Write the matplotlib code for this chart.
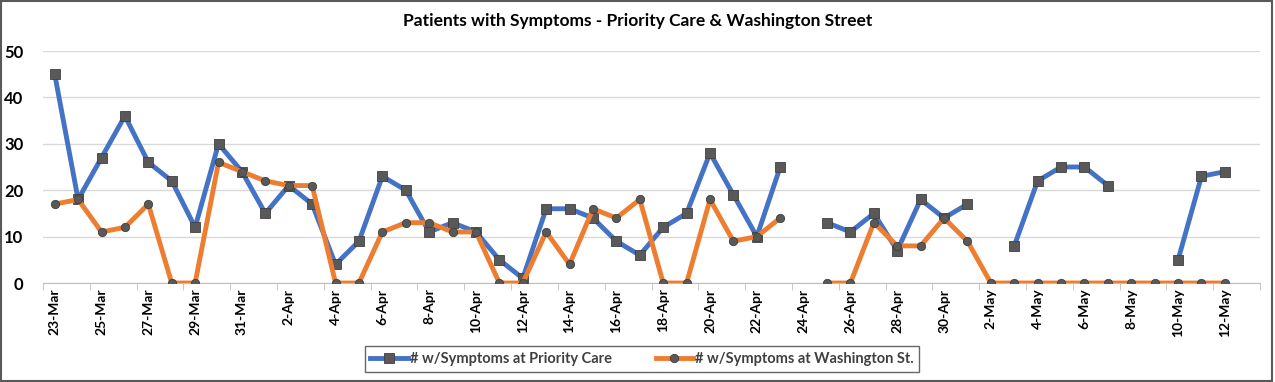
import matplotlib
matplotlib.use("Agg")
import matplotlib.pyplot as plt
import numpy as np
import pandas as pd
from matplotlib.patches import Rectangle

plt.rcParams['font.family'] = ['Lato', 'DejaVu Sans']

# 23-Mar .. 13-May (13-May has no data)
dates = pd.date_range("2020-03-23", "2020-05-13", freq="D")
nan = np.nan
priority_care = [45, 18, 27, 36, 26, 22, 12, 30, 24, 15, 21, 17, 4, 9, 23, 20, 11, 13, 11, 5,
                 1, 16, 16, 14, 9, 6, 12, 15, 28, 19, 10, 25, nan, 13, 11, 15, 7, 18, 14, 17,
                 nan, 8, 22, 25, 25, 21, nan, nan, 5, 23, 24, nan]
washington = [17, 18, 11, 12, 17, 0, 0, 26, 24, 22, 21, 21, 0, 0, 11, 13, 13, 11, 11, 0,
              0, 11, 4, 16, 14, 18, 0, 0, 18, 9, 10, 14, nan, 0, 0, 13, 8, 8, 14, 9,
              0, 0, 0, 0, 0, 0, 0, 0, 0, 0, 0, nan]
labels = [f"{d.day}-{d.strftime('%b')}" for d in dates]

fig = plt.figure(figsize=(12.75, 3.82), dpi=100)
ax = fig.add_axes([43/1275, 1 - 283/382, (1260-43)/1275, (283-51)/382])

x = np.arange(len(dates))
blue = '#4472C4'
orange = '#ED7D31'
ax.plot(x, priority_care, color=blue, lw=3.5, marker='s', ms=6.5, mfc='#595959', mec='#404040',
        mew=0.6, label='# w/Symptoms at Priority Care', zorder=3)
ax.plot(x, washington, color=orange, lw=3.5, marker='o', ms=6, mfc='#595959', mec='#404040',
        mew=0.6, label='# w/Symptoms at Washington St.', zorder=4)

ax.set_xlim(-0.5, len(dates) - 0.5)
ax.set_ylim(0, 50)
ax.set_yticks(range(0, 51, 10))
ax.grid(axis='y', color='#D9D9D9', lw=1)
ax.set_axisbelow(True)
for s in ['top', 'right', 'left']:
    ax.spines[s].set_visible(False)
ax.spines['bottom'].set_color('#BFBFBF')
ax.tick_params(axis='y', length=0, pad=14)
for t in ax.get_yticklabels():
    t.set_fontweight('bold')
    t.set_fontsize(12)

# labels every other day, tick marks at category boundaries
ax.set_xticks(x[::2])
ax.set_xticklabels(labels[::2], rotation=90, fontsize=10, fontweight='bold')
ax.tick_params(axis='x', which='major', length=0, pad=4)
ax.set_xticks(np.arange(-0.5, len(dates), 2), minor=True)
ax.tick_params(axis='x', which='minor', length=5, color='#BFBFBF')

fig.suptitle('Patients with Symptoms - Priority Care & Washington Street', y=0.965,
             fontsize=12.5, fontweight='bold', x=0.5)

leg = fig.legend(loc='center', bbox_to_anchor=(642/1275, 1 - 359/382), ncol=2,
                 frameon=True, fancybox=False, fontsize=10.5, handlelength=2.6,
                 columnspacing=3, handletextpad=0.1, borderpad=0.4)
leg.get_frame().set_edgecolor('#404040')
leg.get_frame().set_linewidth(1)
for t in leg.get_texts():
    t.set_fontweight('bold')
    t.set_color('#404040')

fig.patches.append(Rectangle((0.001, 0.002), 0.997, 0.995, transform=fig.transFigure,
                             fill=False, edgecolor='#595959', lw=1.5))

fig.savefig('out.png', dpi=100)
